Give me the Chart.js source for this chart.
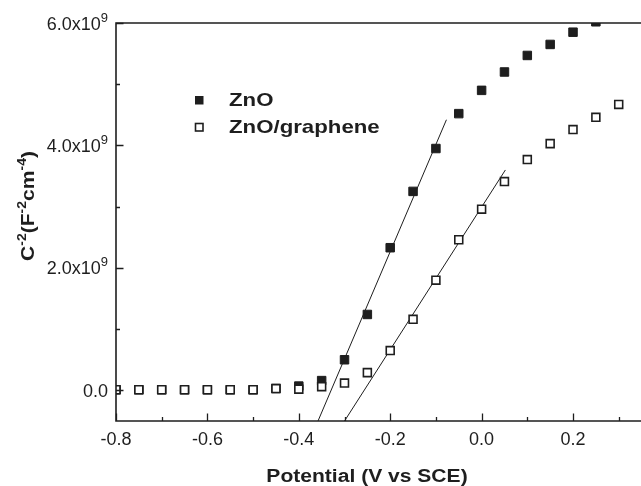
<!DOCTYPE html>
<html>
<head>
<meta charset="utf-8">
<script src="https://cdn.jsdelivr.net/npm/chart.js@4"></script>
<style>
  html, body { margin: 0; padding: 0; background: #fff; }
</style>
</head>
<body>
<canvas id="grapMottSchottky" width="641" height="486"></canvas>
<script>
// potential (V vs SCE) and C^-2 in units of 1e9 F^-2 cm^-4
var potencialZnO = [-0.8, -0.75, -0.7, -0.65, -0.6, -0.55, -0.5, -0.45, -0.4, -0.35, -0.3, -0.25, -0.2, -0.15, -0.1, -0.05, 0, 0.05, 0.1, 0.15, 0.2, 0.25];
var valoresZnO = [0.01, 0.01, 0.01, 0.01, 0.01, 0.01, 0.01, 0.03, 0.07, 0.16, 0.50, 1.24, 2.33, 3.25, 3.95, 4.52, 4.90, 5.20, 5.47, 5.65, 5.85, 6.02];

var potencialGrafeno = [-0.8, -0.75, -0.7, -0.65, -0.6, -0.55, -0.5, -0.45, -0.4, -0.35, -0.3, -0.25, -0.2, -0.15, -0.1, -0.05, 0, 0.05, 0.1, 0.15, 0.2, 0.25, 0.3];
var valoresGrafeno = [0.01, 0.01, 0.01, 0.01, 0.01, 0.01, 0.01, 0.03, 0.02, 0.06, 0.12, 0.29, 0.65, 1.16, 1.80, 2.46, 2.96, 3.41, 3.77, 4.03, 4.26, 4.46, 4.67];

// linear fits (end points)
var ajusteZnOx = [-0.358, -0.077];
var ajusteZnOy = [-0.5, 4.42];
var ajusteGrafenoX = [-0.300, 0.052];
var ajusteGrafenoY = [-0.5, 3.60];

var xTicksMayores = [-0.8, -0.6, -0.4, -0.2, 0, 0.2];
var xTicksMenores = [-0.7, -0.5, -0.3, -0.1, 0.1, 0.3];
var yTicksMayores = [0, 2, 4, 6];
var yTicksMenores = [1, 3, 5];

var etiquetas = ['ZnO', 'ZnO/graphene'];

function pares(xs, ys) {
  return xs.map(function (x, i) { return { x: x, y: ys[i] }; });
}

var FUENTE = "'Liberation Sans', Arial, sans-serif";
var NEGRO = '#1e1e1e';

// draws a run of text pieces [text, font, dy], optionally stretched horizontally
function dibujarTexto(ctx, partes, x, y, align, sx) {
  var ancho = 0;
  partes.forEach(function (p) { ctx.font = p[1]; ancho += ctx.measureText(p[0]).width; });
  ctx.save();
  ctx.translate(x, y);
  ctx.scale(sx, 1);
  ctx.textAlign = 'left';
  ctx.textBaseline = 'alphabetic';
  var cx = align === 'right' ? -ancho : (align === 'center' ? -ancho / 2 : 0);
  partes.forEach(function (p) {
    ctx.font = p[1];
    ctx.fillText(p[0], cx, p[2]);
    cx += ctx.measureText(p[0]).width;
  });
  ctx.restore();
}

var ejesPlugin = {
  id: 'ejes',
  afterDatasetsDraw: function (chart) {
    var ctx = chart.ctx;
    var a = chart.chartArea;
    var sx = chart.scales.x, sy = chart.scales.y;
    ctx.save();
    ctx.strokeStyle = NEGRO;
    ctx.fillStyle = NEGRO;

    // frame
    ctx.lineWidth = 1.6;
    ctx.beginPath();
    ctx.moveTo(chart.width, a.top);
    ctx.lineTo(a.left, a.top);
    ctx.lineTo(a.left, a.bottom);
    ctx.lineTo(chart.width, a.bottom);
    ctx.stroke();

    // ticks (inward)
    ctx.lineWidth = 1.3;
    ctx.beginPath();
    xTicksMayores.forEach(function (v) {
      var px = Math.round(sx.getPixelForValue(v)) + 0.5;
      ctx.moveTo(px, a.bottom); ctx.lineTo(px, a.bottom - 7.5);
    });
    xTicksMenores.forEach(function (v) {
      var px = Math.round(sx.getPixelForValue(v)) + 0.5;
      ctx.moveTo(px, a.bottom); ctx.lineTo(px, a.bottom - 4);
    });
    yTicksMayores.forEach(function (v) {
      var py = Math.round(sy.getPixelForValue(v)) + 0.5;
      ctx.moveTo(a.left, py); ctx.lineTo(a.left + 7.5, py);
    });
    yTicksMenores.forEach(function (v) {
      var py = Math.round(sy.getPixelForValue(v)) + 0.5;
      ctx.moveTo(a.left, py); ctx.lineTo(a.left + 4, py);
    });
    ctx.stroke();

    // tick labels
    var fTick = '18px ' + FUENTE;
    var fSup = '13px ' + FUENTE;
    xTicksMayores.forEach(function (v) {
      dibujarTexto(ctx, [[v.toFixed(1), fTick, 0]], sx.getPixelForValue(v), a.bottom + 24, 'center', 1);
    });
    yTicksMayores.forEach(function (v) {
      var partes = v === 0 ? [['0.0', fTick, 0]] : [[v.toFixed(1) + 'x10', fTick, 0], ['9', fSup, -8]];
      dibujarTexto(ctx, partes, 108, sy.getPixelForValue(v) + 6.5, 'right', 1);
    });

    // axis titles
    var fTit = 'bold 18px ' + FUENTE;
    var fTitSup = 'bold 12px ' + FUENTE;
    dibujarTexto(ctx, [['Potential (V vs SCE)', fTit, 0]], 367, 482, 'center', 1.17);
    ctx.save();
    ctx.translate(34, 206);
    ctx.rotate(-Math.PI / 2);
    dibujarTexto(ctx, [['C', fTit, 0], ['-2', fTitSup, -8], ['(F', fTit, 0], ['-2', fTitSup, -8],
      ['cm', fTit, 0], ['-4', fTitSup, -8], [')', fTit, 0]], 0, 0, 'center', 1.17);
    ctx.restore();

    // legend
    var fLeg = 'bold 19px ' + FUENTE;
    ctx.fillRect(195, 96, 8.5, 8.5);
    ctx.fillStyle = '#fff';
    ctx.lineWidth = 1.6;
    ctx.fillRect(195.5, 123.5, 7.5, 7.5);
    ctx.strokeRect(195.5, 123.5, 7.5, 7.5);
    ctx.fillStyle = NEGRO;
    dibujarTexto(ctx, [[etiquetas[0], fLeg, 0]], 229, 106, 'left', 1.17);
    dibujarTexto(ctx, [[etiquetas[1], fLeg, 0]], 229, 133, 'left', 1.17);
    ctx.restore();
  }
};

var ctx = document.getElementById('grapMottSchottky');
new Chart(ctx, {
  type: 'scatter',
  data: {
    datasets: [{
      type: 'line',
      data: pares(ajusteZnOx, ajusteZnOy),
      borderColor: NEGRO,
      borderWidth: 1,
      pointRadius: 0,
      fill: false,
      clip: 0,
      order: 3
    }, {
      type: 'line',
      data: pares(ajusteGrafenoX, ajusteGrafenoY),
      borderColor: NEGRO,
      borderWidth: 1,
      pointRadius: 0,
      fill: false,
      clip: 0,
      order: 3
    }, {
      label: etiquetas[0],
      data: pares(potencialZnO, valoresZnO),
      pointStyle: 'rect',
      pointRadius: 6,
      backgroundColor: NEGRO,
      borderColor: NEGRO,
      borderWidth: 1,
      clip: 0,
      order: 2
    }, {
      label: etiquetas[1],
      data: pares(potencialGrafeno, valoresGrafeno),
      pointStyle: 'rect',
      pointRadius: 5.6,
      backgroundColor: '#fff',
      borderColor: NEGRO,
      borderWidth: 1.6,
      clip: 0,
      order: 1
    }]
  },
  options: {
    responsive: false,
    animation: false,
    devicePixelRatio: 1,
    layout: { padding: { left: 116, top: 23, right: 0, bottom: 65 } },
    plugins: {
      legend: { display: false },
      tooltip: { enabled: false }
    },
    scales: {
      x: { type: 'linear', min: -0.8, max: 0.333, display: false },
      y: { type: 'linear', min: -0.5, max: 6.0, display: false }
    }
  },
  plugins: [ejesPlugin]
});
</script>
</body>
</html>
